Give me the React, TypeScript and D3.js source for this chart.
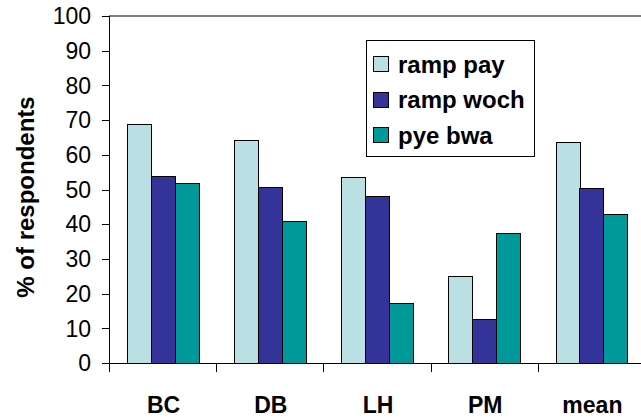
import React from "react";
import * as d3 from "d3";

const categories = ["BC", "DB", "LH", "PM", "mean"];
const seriesNames = ["ramp pay", "ramp woch", "pye bwa"];
const rampPay = [69, 64.4, 53.6, 25, 63.7];
const rampWoch = [54, 50.8, 48.1, 12.7, 50.3];
const pyeBwa = [52, 40.8, 17.2, 37.5, 43];
const seriesColors = ["#BBE0E3", "#333399", "#009999"];
const yTicks = [0, 10, 20, 30, 40, 50, 60, 70, 80, 90, 100];

const W = 641;
const H = 419;
const FONT = "'Liberation Sans', Arial, sans-serif";

export default function App() {
  const seriesValues = [rampPay, rampWoch, pyeBwa];
  const left = 109;
  const step = 107.2;
  const x = d3
    .scaleBand<string>()
    .domain(categories)
    .range([left, left + step * categories.length])
    .paddingInner(0)
    .paddingOuter(0);
  const xi = d3
    .scaleBand<string>()
    .domain(seriesNames)
    .range([0, x.bandwidth()])
    .paddingInner(0)
    .paddingOuter(0.75);
  const y = d3.scaleLinear().domain([0, 100]).range([363, 16]);
  const right = left + step * categories.length;

  return (
    <svg
      width={W}
      height={H}
      style={{ position: "absolute", left: 0, top: 0, background: "#fff" }}
      fontFamily={FONT}
    >
      <rect x={0} y={0} width={W} height={H} fill="#fff" />
      {/* plot frame: top edge */}
      <line x1={left} x2={right} y1={y(100)} y2={y(100)} stroke="#000" strokeWidth={1} />

      {/* bars */}
      {categories.map((c, ci) => (
        <g key={c}>
          {seriesNames.map((s, si) => {
            const v = seriesValues[si][ci];
            const bx = (x(c) as number) + (xi(s) as number);
            return (
              <rect
                key={s}
                x={Math.round(bx) + 0.5}
                y={Math.round(y(v)) + 0.5}
                width={Math.round(xi.bandwidth())}
                height={Math.round(y(0)) - Math.round(y(v))}
                fill={seriesColors[si]}
                stroke="#000"
                strokeWidth={1}
              />
            );
          })}
        </g>
      ))}

      {/* y axis */}
      <line x1={left + 0.5} x2={left + 0.5} y1={y(100)} y2={y(0)} stroke="#000" />
      {yTicks.map((t) => (
        <g key={t}>
          <line
            x1={left - 7}
            x2={left}
            y1={Math.round(y(t)) + 0.5}
            y2={Math.round(y(t)) + 0.5}
            stroke="#000"
          />
          <text
            x={91}
            y={y(t)}
            dy="0.36em"
            textAnchor="end"
            fontSize={23}
            fill="#000"
          >
            {t}
          </text>
        </g>
      ))}

      {/* x axis */}
      <line x1={left} x2={right} y1={Math.round(y(0)) + 0.5} y2={Math.round(y(0)) + 0.5} stroke="#000" />
      {categories.map((c, i) => (
        <line
          key={"t" + c}
          x1={Math.round(left + step * i) + 0.5}
          x2={Math.round(left + step * i) + 0.5}
          y1={y(0)}
          y2={y(0) + 9}
          stroke="#000"
        />
      ))}
      {categories.map((c) => (
        <text
          key={"l" + c}
          x={(x(c) as number) + x.bandwidth() / 2 + 1}
          y={413}
          textAnchor="middle"
          fontSize={23}
          fontWeight="bold"
          fill="#000"
        >
          {c}
        </text>
      ))}

      {/* y axis title */}
      <text
        transform="translate(34,197) rotate(-90)"
        textAnchor="middle"
        fontSize={24}
        fontWeight="bold"
        fill="#000"
      >
        % of respondents
      </text>

      {/* legend */}
      <rect x={366.5} y={40.5} width={168} height={116} fill="#fff" stroke="#000" />
      {seriesNames.map((s, i) => {
        const cy = 64 + i * 35.5;
        return (
          <g key={"lg" + s}>
            <rect
              x={373.5}
              y={Math.round(cy - 8) + 0.5}
              width={15}
              height={15}
              fill={seriesColors[i]}
              stroke="#000"
            />
            <text x={398} y={cy} dy="0.36em" fontSize={24} fontWeight="bold" fill="#000">
              {s}
            </text>
          </g>
        );
      })}
    </svg>
  );
}
